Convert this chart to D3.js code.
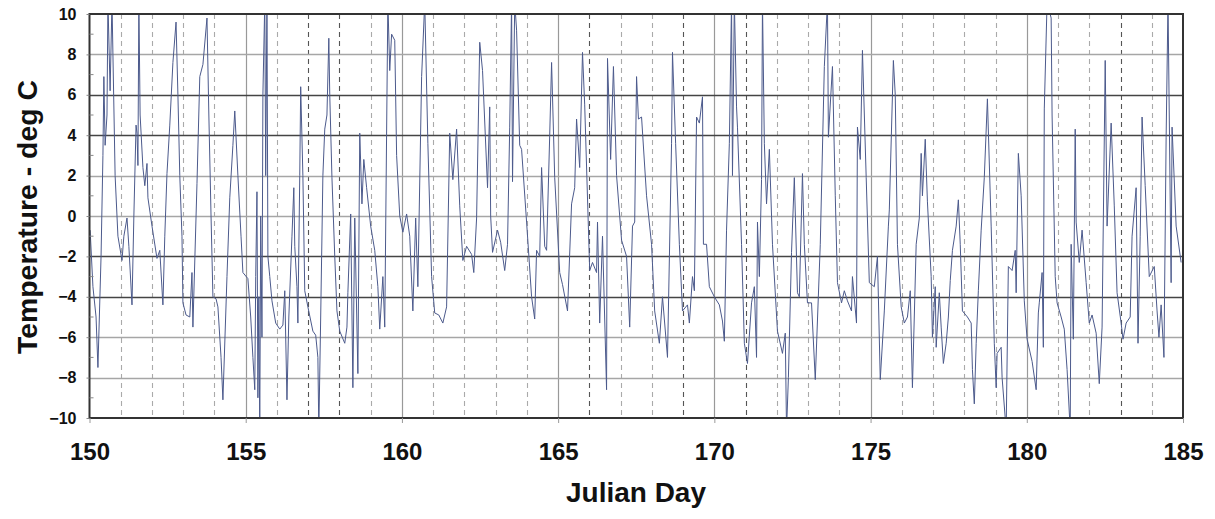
<!DOCTYPE html>
<html>
<head>
<meta charset="utf-8">
<script src="https://cdn.jsdelivr.net/npm/d3@7/dist/d3.min.js"></script>
<style>
  html, body { margin: 0; padding: 0; background: #fff; }
  svg { display: block; }
  text { font-family: "Liberation Sans", Arial, sans-serif; }
</style>
</head>
<body>
<svg id="chart" width="1215" height="519"></svg>
<script>
// ---- data (Julian day, temperature deg C) ----
const days = [
150.02,150.11,150.21,150.27,150.37,150.43,150.46,150.50,150.56,150.59,150.66,150.72,150.75,150.82,150.91,
151.04,151.10,151.20,151.26,151.36,151.42,151.49,151.52,151.55,151.58,151.62,151.71,151.77,151.84,151.87,
152.00,152.16,152.25,152.35,152.41,152.48,152.57,152.67,152.77,152.83,152.89,152.96,152.99,
153.09,153.21,153.28,153.31,153.44,153.53,153.63,153.76,153.82,153.89,153.95,
154.05,154.11,154.21,154.27,154.40,154.49,154.59,154.65,154.75,154.85,154.91,
155.07,155.16,155.23,155.29,155.32,155.36,155.39,155.42,155.45,155.48,155.52,155.55,155.61,155.64,155.68,155.71,155.77,155.84,155.96,
156.09,156.19,156.25,156.32,156.38,156.48,156.54,156.57,156.64,156.67,156.73,156.76,156.83,156.89,156.99,
157.15,157.24,157.31,157.34,157.40,157.47,157.53,157.60,157.66,157.69,157.76,157.85,157.92,
158.01,158.17,158.24,158.27,158.36,158.43,158.49,158.59,158.65,158.72,158.78,158.87,
159.00,159.13,159.23,159.29,159.39,159.45,159.55,159.61,159.67,159.77,159.83,159.93,
160.03,160.15,160.25,160.35,160.44,160.51,160.63,160.73,160.83,160.95,
161.05,161.18,161.31,161.43,161.53,161.63,161.75,161.85,161.95,
162.07,162.23,162.30,162.39,162.49,162.58,162.74,162.81,162.84,162.90,
163.06,163.16,163.29,163.38,163.45,163.51,163.54,163.61,163.67,163.77,163.83,163.99,
164.15,164.25,164.31,164.41,164.47,164.57,164.63,164.73,164.79,164.89,
165.05,165.14,165.30,165.43,165.53,165.59,165.69,165.78,165.85,
166.01,166.10,166.23,166.26,166.33,166.42,166.55,166.58,166.68,166.77,166.87,
167.03,167.19,167.29,167.38,167.45,167.51,167.57,167.67,167.83,167.99,
168.09,168.24,168.34,168.50,168.63,168.66,168.76,168.88,168.98,
169.14,169.20,169.30,169.36,169.43,169.52,169.62,169.65,169.75,169.84,
170.00,170.16,170.26,170.32,170.39,170.48,170.55,170.58,170.64,170.71,170.74,170.87,170.96,
171.06,171.19,171.28,171.35,171.38,171.44,171.51,171.54,171.60,171.67,171.76,171.86,
172.02,172.18,172.27,172.31,172.37,172.47,172.56,172.66,172.72,172.82,172.88,172.98,
173.11,173.23,173.39,173.52,173.62,173.65,173.78,173.87,173.94,
174.07,174.16,174.26,174.39,174.42,174.55,174.58,174.67,174.74,174.86,174.96,
175.12,175.22,175.31,175.44,175.57,175.60,175.73,175.79,175.86,175.98,
176.08,176.18,176.27,176.34,176.46,176.56,176.62,176.66,176.75,176.82,176.94,176.98,
177.07,177.10,177.20,177.26,177.33,177.42,177.49,177.55,177.62,177.74,177.81,177.87,177.94,
178.10,178.22,178.26,178.32,178.38,178.45,178.54,178.64,178.74,178.86,178.96,
179.02,179.05,179.18,179.21,179.34,179.41,179.53,179.63,179.66,179.73,179.82,179.92,
180.01,180.17,180.30,180.37,180.40,180.49,180.53,180.56,180.65,180.78,180.81,180.91,180.97,
181.10,181.20,181.29,181.39,181.42,181.49,181.55,181.58,181.68,181.77,181.90,
182.00,182.09,182.22,182.32,182.41,182.51,182.57,182.70,182.80,182.89,
183.02,183.08,183.18,183.31,183.37,183.50,183.56,183.63,183.69,183.79,183.92,
184.08,184.17,184.23,184.30,184.39,184.46,184.52,184.62,184.65,184.78,184.94
];
const temps = [
-0.7,-3.5,-5.0,-7.5,-2.0,3.0,6.9,3.5,5.0,10.6,6.2,10.6,8.0,2.0,-1.0,
-2.2,-1.0,-0.1,-1.5,-4.4,0.0,4.5,4.1,2.5,10.6,5.0,2.4,1.5,2.6,0.9,
-0.5,-2.1,-1.7,-4.4,-1.0,2.1,4.5,7.6,9.6,6.0,2.0,-1.0,-4.3,
-4.9,-5.0,-2.8,-5.5,1.6,6.9,7.5,9.8,5.0,0.0,-4.0,
-4.1,-4.5,-7.0,-9.1,-3.0,0.9,3.5,5.2,2.0,-1.0,-2.8,
-3.1,-5.0,-7.0,-8.6,-3.0,1.2,-9.0,-4.0,-10.6,0.0,-6.0,6.0,10.6,2.0,10.6,-2.0,-3.0,-4.2,-5.3,
-5.6,-5.4,-3.7,-9.1,-5.0,-1.0,1.4,-1.5,-3.5,-5.3,2.0,6.4,2.0,-3.7,-4.5,
-5.7,-5.9,-7.0,-10.6,-5.0,2.0,4.3,5.0,8.8,6.0,1.9,-2.0,-4.7,
-5.7,-6.3,-5.5,-3.8,0.1,-8.5,-0.1,-7.8,4.1,0.6,2.8,1.4,
-0.5,-1.7,-3.5,-5.6,-3.0,-5.5,10.6,7.2,9.0,8.7,3.0,0.0,
-0.8,0.1,-1.0,-4.7,-0.1,-3.5,6.9,10.6,3.6,-3.0,
-4.8,-4.9,-5.3,-4.5,4.1,1.8,4.3,0.5,-2.2,
-1.5,-1.9,-2.8,-0.1,8.6,7.2,1.4,5.4,0.0,-1.8,
-0.7,-1.3,-2.7,-1.4,4.4,10.6,1.7,10.6,9.2,3.5,3.3,-0.3,
-4.0,-5.1,-1.7,-2.0,2.4,-1.5,-1.7,4.0,7.6,1.9,
-2.8,-3.4,-4.7,0.6,1.4,4.8,2.4,8.1,5.5,
-2.7,-2.3,-2.8,-0.3,-5.3,-1.0,-8.6,7.8,2.8,7.4,2.0,
-1.2,-2.0,-5.5,-0.5,-0.3,6.9,4.8,4.9,1.0,-1.4,
-4.7,-6.3,-4.0,-7.0,3.6,8.1,3.6,-1.4,-4.7,
-4.4,-5.3,-3.0,-3.7,4.9,4.6,5.9,-1.4,-1.4,-3.5,
-4.0,-4.4,-5.2,-6.2,-0.7,3.6,10.6,2.0,10.6,5.4,4.4,-1.4,-6.3,
-7.3,-4.3,-3.5,-7.0,-0.3,-3.0,1.8,10.6,3.6,0.6,3.3,-1.4,
-5.7,-6.8,-5.8,-10.6,-8.0,-1.8,1.9,-3.8,-4.0,2.1,-1.4,-4.3,
-4.3,-8.1,-1.4,7.4,10.6,3.9,7.4,1.0,-3.3,
-4.3,-3.7,-4.2,-4.7,-3.0,-5.3,4.4,2.8,8.2,1.9,-3.3,
-3.5,-2.0,-8.1,-4.7,-0.5,0.3,7.7,6.0,-1.4,-4.5,
-5.3,-5.0,-3.7,-8.5,-1.4,-0.1,3.1,1.0,3.8,0.7,-3.0,-6.0,
-3.5,-6.5,-3.8,-5.5,-7.3,-6.3,-5.0,-3.2,-1.7,-0.5,0.8,-1.4,-4.7,
-5.0,-5.3,-7.6,-9.3,-6.3,-3.7,-0.7,1.9,5.8,-0.5,-6.3,
-8.5,-6.8,-6.5,-8.0,-10.6,-2.5,-2.7,-1.7,-3.8,3.1,1.0,-4.2,
-6.1,-7.2,-8.6,-4.8,-4.3,-2.8,-6.5,5.3,10.6,9.8,5.0,-3.0,-4.3,
-5.0,-5.6,-7.6,-10.6,-1.4,-6.1,4.3,-0.3,-2.3,-0.7,-3.3,
-5.3,-4.9,-5.8,-8.3,-5.5,7.7,-0.5,4.6,0.5,-3.8,
-5.3,-6.1,-5.3,-5.0,-1.0,1.4,-6.3,-1.0,4.9,1.5,-3.0,
-2.5,-4.7,-6.0,-4.4,-7.0,3.9,10.6,-3.3,4.4,-0.5,-2.3
];
const xTicks = [150, 155, 160, 165, 170, 175, 180, 185];
const yTicks = [-10, -8, -6, -4, -2, 0, 2, 4, 6, 8, 10];
const darkGridY = [6, 4, -2, -4];
const darkDashedDays = [157, 158, 166, 169, 171, 183];

// ---- layout ----
const M = { left: 89.5, right: 1183, top: 14, bottom: 418 };
const svg = d3.select("#chart");
const x = d3.scaleLinear().domain([150, 185]).range([M.left, M.right]);
const y = d3.scaleLinear().domain([-10, 10]).range([M.bottom, M.top]);

svg.append("defs").append("clipPath").attr("id", "clip")
  .append("rect").attr("x", M.left).attr("y", M.top)
  .attr("width", M.right - M.left).attr("height", M.bottom - M.top);

const grid = svg.append("g");
// dashed daily lines
const dailies = d3.range(151, 185).filter(d => d % 5 !== 0);
grid.selectAll("line.dash").data(dailies).join("line")
  .attr("x1", d => Math.round(x(d)) + 0.5).attr("x2", d => Math.round(x(d)) + 0.5)
  .attr("y1", M.top).attr("y2", M.bottom)
  .attr("stroke", d => darkDashedDays.includes(d) ? "#555" : "#aaa")
  .attr("stroke-width", 1.1)
  .attr("stroke-dasharray", "5,4");
// solid 5-day lines
grid.selectAll("line.v5").data(xTicks.slice(1, -1)).join("line")
  .attr("x1", d => Math.round(x(d)) + 0.5).attr("x2", d => Math.round(x(d)) + 0.5)
  .attr("y1", M.top).attr("y2", M.bottom)
  .attr("stroke", "#999").attr("stroke-width", 1.2);
// horizontal grid
grid.selectAll("line.h").data(yTicks.slice(1, -1)).join("line")
  .attr("x1", M.left).attr("x2", M.right)
  .attr("y1", d => Math.round(y(d)) + 0.5).attr("y2", d => Math.round(y(d)) + 0.5)
  .attr("stroke", d => darkGridY.includes(d) ? "#444" : "#a6a6a6")
  .attr("stroke-width", 1.3);

// data line
const line = d3.line().x((d, i) => x(days[i])).y(d => y(d));
svg.append("path").datum(temps)
  .attr("clip-path", "url(#clip)")
  .attr("fill", "none")
  .attr("stroke", "#4c5a8c")
  .attr("stroke-width", 1)
  .attr("stroke-linejoin", "round")
  .attr("d", line);

// frame
svg.append("rect").attr("x", M.left).attr("y", M.top)
  .attr("width", M.right - M.left).attr("height", M.bottom - M.top)
  .attr("fill", "none").attr("stroke", "#333").attr("stroke-width", 2);

// y axis
const yAxis = d3.axisLeft(y).tickValues(yTicks).tickSize(3).tickPadding(10).tickFormat(d3.format("d"));
const gy = svg.append("g").attr("transform", `translate(${M.left},0)`).call(yAxis);
gy.select(".domain").remove();
gy.selectAll(".tick line").attr("stroke", "#888");
gy.selectAll(".tick text").attr("font-size", 16).attr("font-weight", "bold").attr("fill", "#111")
  .attr("font-family", "'Liberation Sans', Arial, sans-serif");
// minor ticks inside
svg.append("g").selectAll("line").data(d3.range(-9, 10, 2)).join("line")
  .attr("x1", M.left).attr("x2", M.left + 4)
  .attr("y1", d => y(d)).attr("y2", d => y(d))
  .attr("stroke", "#888").attr("stroke-width", 1);

// x axis
const xAxis = d3.axisBottom(x).tickValues(xTicks).tickSize(5).tickPadding(20).tickFormat(d3.format("d"));
const gx = svg.append("g").attr("transform", `translate(0,${M.bottom})`).call(xAxis);
gx.select(".domain").remove();
gx.selectAll(".tick line").attr("stroke", "#999");
gx.selectAll(".tick text").attr("font-size", 24).attr("font-weight", "bold").attr("fill", "#111")
  .attr("font-family", "'Liberation Sans', Arial, sans-serif");

// axis titles
svg.append("text").attr("x", 636).attr("y", 502)
  .attr("text-anchor", "middle").attr("font-size", 27).attr("font-weight", "bold").attr("fill", "#111")
  .attr("textLength", 140).attr("lengthAdjust", "spacingAndGlyphs")
  .text("Julian Day");
svg.append("text").attr("transform", "translate(37,217) rotate(-90)")
  .attr("text-anchor", "middle").attr("font-size", 27).attr("font-weight", "bold").attr("fill", "#111")
  .attr("textLength", 274).attr("lengthAdjust", "spacingAndGlyphs")
  .text("Temperature - deg C");
</script>
</body>
</html>
